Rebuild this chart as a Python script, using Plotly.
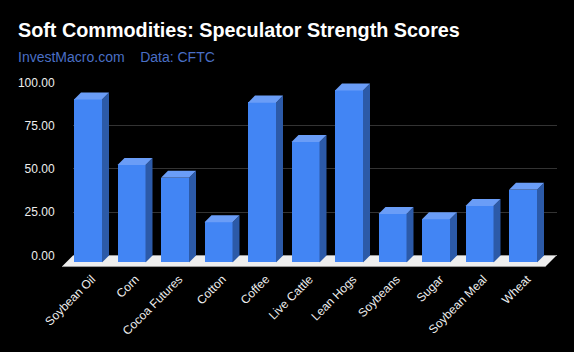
import plotly.graph_objects as go

categories = ["Soybean Oil", "Corn", "Cocoa Futures", "Cotton", "Coffee", "Live Cattle",
              "Lean Hogs", "Soybeans", "Sugar", "Soybean Meal", "Wheat"]
scores = [94.2, 56.4, 49.0, 23.2, 92.4, 69.6, 99.4, 28.0, 25.0, 32.7, 42.0]
y_ticks = [0, 25, 50, 75, 100]
y_labels = ["0.00", "25.00", "50.00", "75.00", "100.00"]

W, H = 574, 352
INSET = 8.0
PX_PER_UNIT = 1.72
CAT_PX = 43.5
FIRST_CX = 88.0
BAR_PX = 28.0
DEPTH_PX = 7.0
BACK_ZERO = 255.0
FRONT_ZERO = 262.0
TOP_UNITS = 110

FRONT = "#4285f4"
TOP = "#6a9df7"
SIDE = "#2c5aa8"

dx = DEPTH_PX / CAT_PX
dy = DEPTH_PX / PX_PER_UNIT
half = BAR_PX / CAT_PX / 2
idx = list(range(len(categories)))


def fy(py):
    return 1 - (py - INSET) / (H - 2 * INSET)


def fx(px):
    return px / W


fig = go.Figure()

# invisible carrier for the back plane
fig.add_trace(go.Scatter(x=[0, 1], y=[0, 100], xaxis="x", yaxis="y", mode="markers",
                         marker=dict(opacity=0), hoverinfo="skip", showlegend=False))

fig.add_trace(go.Bar(x=idx, y=scores, xaxis="x2", yaxis="y2", width=BAR_PX / CAT_PX,
                     marker=dict(color=FRONT, line=dict(width=0)), showlegend=False))

for i, v in zip(idx, scores):
    r = i + half
    l = i - half
    fig.add_trace(go.Scatter(x=[r, r + dx, r + dx, r, r], y=[0, dy, v + dy, v, 0],
                             xaxis="x2", yaxis="y2", mode="lines", fill="toself",
                             fillcolor=SIDE, line=dict(width=0), hoverinfo="skip", showlegend=False))
    fig.add_trace(go.Scatter(x=[l, r, r + dx, l + dx, l], y=[v, v, v + dy, v + dy, v],
                             xaxis="x2", yaxis="y2", mode="lines", fill="toself",
                             fillcolor=TOP, line=dict(width=0), hoverinfo="skip", showlegend=False))

floor_path = (f"M {fx(62)} {fy(266)} L {fx(73)} {fy(255)} L {fx(556.5)} {fy(255)} "
              f"L {fx(545.5)} {fy(266)} Z")

fig.update_layout(
    width=W, height=H,
    margin=dict(l=0, r=0, t=0, b=0),
    paper_bgcolor="#000000", plot_bgcolor="rgba(0,0,0,0)",
    font=dict(family="Liberation Sans, Arial, sans-serif", color="#eeeeee", size=12),
    bargap=0,
    xaxis=dict(domain=[fx(73), fx(556.5)], range=[0, 1], visible=False, anchor="y"),
    yaxis=dict(domain=[fy(BACK_ZERO), fy(BACK_ZERO - 100 * PX_PER_UNIT)], range=[0, 100],
               anchor="x", tickvals=y_ticks, ticktext=y_labels, showgrid=True,
               gridcolor="#333333", gridwidth=1, zeroline=True, zerolinecolor="#9a9a9a",
               zerolinewidth=1, showline=False, ticks="outside", ticklen=15,
               tickcolor="rgba(0,0,0,0)", tickfont=dict(size=12, color="#eeeeee")),
    xaxis2=dict(domain=[0, 1], range=[(0 - FIRST_CX) / CAT_PX, (W - FIRST_CX) / CAT_PX],
                anchor="y2", tickvals=idx, ticktext=categories, tickangle=-45,
                ticklabelshift=4,
                showgrid=False, zeroline=False, showline=False, ticks="outside", ticklen=4,
                tickcolor="rgba(0,0,0,0)", tickfont=dict(size=12, color="#eeeeee")),
    yaxis2=dict(domain=[fy(FRONT_ZERO), fy(FRONT_ZERO - TOP_UNITS * PX_PER_UNIT)],
                range=[0, TOP_UNITS], anchor="x2", visible=False),
    shapes=[
        dict(type="path", path=floor_path, xref="paper", yref="paper", layer="below",
             fillcolor="#eeeeee", line=dict(width=0)),
        dict(type="line", xref="paper", yref="paper", layer="below", x0=fx(62), x1=fx(545.5),
             y0=fy(266), y1=fy(266), line=dict(color="#9a9a9a", width=1)),
    ],
    annotations=[
        dict(text="<b>Soft Commodities: Speculator Strength Scores</b>", xref="paper", yref="paper",
             x=fx(16), y=fy(31), xanchor="left", yanchor="middle", showarrow=False,
             font=dict(size=19.8, color="#ffffff")),
        dict(text="InvestMacro.com    Data: CFTC", xref="paper", yref="paper",
             x=fx(16), y=fy(58), xanchor="left", yanchor="middle", showarrow=False,
             font=dict(size=14, color="#4a6fc5")),
    ],
)
fig.write_html("out.html", config=dict(displayModeBar=False),
               post_script="document.body.style.margin='0';document.body.style.background='#000';document.body.style.overflow='hidden';")
